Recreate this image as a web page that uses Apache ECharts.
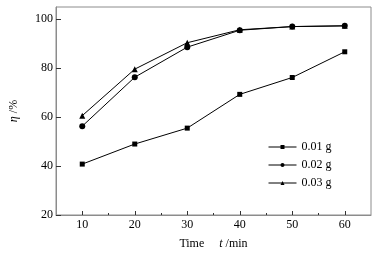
<!DOCTYPE html>
<html>
<head>
<meta charset="utf-8">
<script src="https://cdn.jsdelivr.net/npm/echarts@6/dist/echarts.min.js"></script>
<style>
  html, body { margin: 0; padding: 0; background: #fff; }
  #main { width: 383px; height: 255px; }
</style>
</head>
<body>
<div id="main"></div>
<script>
// data
var times = [10, 20, 30, 40, 50, 60];
var names = ['0.01 g', '0.02 g', '0.03 g'];
var eta001 = [40.8, 49.0, 55.5, 69.3, 76.2, 86.7];
var eta002 = [56.3, 76.3, 88.6, 95.5, 97.0, 97.3];
var eta003 = [60.6, 79.6, 90.4, 95.7, 97.0, 97.3];
var xMajor = [10, 20, 30, 40, 50, 60];
var xMinor = [15, 25, 35, 45, 55];
var yMajor = [20, 40, 60, 80, 100];

var font = 'Liberation Serif';
var frame = '#8c8c8c';

function pairs(ys) {
    var out = [];
    for (var i = 0; i < times.length; i++) {
        out.push([times[i], ys[i]]);
    }
    return out;
}

var myChart = echarts.init(document.getElementById('main'));

function mkSeries(name, ys, symbol, size) {
    return {
        name: name,
        type: 'line',
        data: pairs(ys),
        symbol: symbol,
        symbolSize: size,
        lineStyle: { color: '#000', width: 1 },
        itemStyle: { color: '#000' },
        animation: false
    };
}

var option = {
    backgroundColor: '#fff',
    textStyle: { fontFamily: font },
    grid: {
        left: 55, right: 12, top: 7, bottom: 40,
        show: true, borderColor: frame, borderWidth: 1
    },
    legend: {
        data: names,
        left: 263, top: 136,
        orient: 'vertical',
        itemWidth: 28, itemHeight: 5, itemGap: 6,
        lineStyle: { width: 1 },
        textStyle: { fontFamily: font, fontSize: 12, color: '#000' }
    },
    xAxis: [{
        type: 'value', min: 5, max: 65,
        name: '{n|Time}     {i|t} /min',
        nameLocation: 'middle', nameGap: 23,
        nameTextStyle: {
            color: '#000', fontFamily: font, fontSize: 12,
            rich: {
                n: { fontFamily: font, fontSize: 12, color: '#000' },
                i: { fontFamily: font, fontSize: 12, fontStyle: 'italic', color: '#000' }
            }
        },
        axisLine: { lineStyle: { color: frame } },
        axisTick: { inside: true, length: 4, customValues: xMajor, lineStyle: { color: '#333' } },
        axisLabel: { customValues: xMajor, color: '#000', fontSize: 12, fontFamily: font, margin: 4 },
        splitLine: { show: false }
    }, {
        type: 'value', min: 5, max: 65, position: 'bottom',
        axisLine: { show: false },
        axisTick: { inside: true, length: 2, customValues: xMinor, lineStyle: { color: '#333' } },
        axisLabel: { show: false },
        splitLine: { show: false }
    }],
    yAxis: {
        type: 'value', min: 20, max: 105,
        name: '{i|η} /%',
        nameLocation: 'middle', nameRotate: 90, nameGap: 36,
        nameTextStyle: {
            rich: {
                i: { fontFamily: font, fontSize: 12, fontStyle: 'italic', color: '#000' }
            },
            fontFamily: font, fontSize: 12, color: '#000'
        },
        axisLine: { show: true, lineStyle: { color: frame } },
        axisTick: { show: true, inside: true, length: 5, customValues: yMajor, lineStyle: { color: '#333' } },
        axisLabel: { customValues: yMajor, color: '#000', fontSize: 12, fontFamily: font, margin: 3 },
        splitLine: { show: false }
    },
    series: [
        mkSeries(names[0], eta001, 'rect', 5),
        mkSeries(names[1], eta002, 'circle', 6),
        mkSeries(names[2], eta003, 'triangle', 6)
    ]
};

myChart.setOption(option);
</script>
</body>
</html>
